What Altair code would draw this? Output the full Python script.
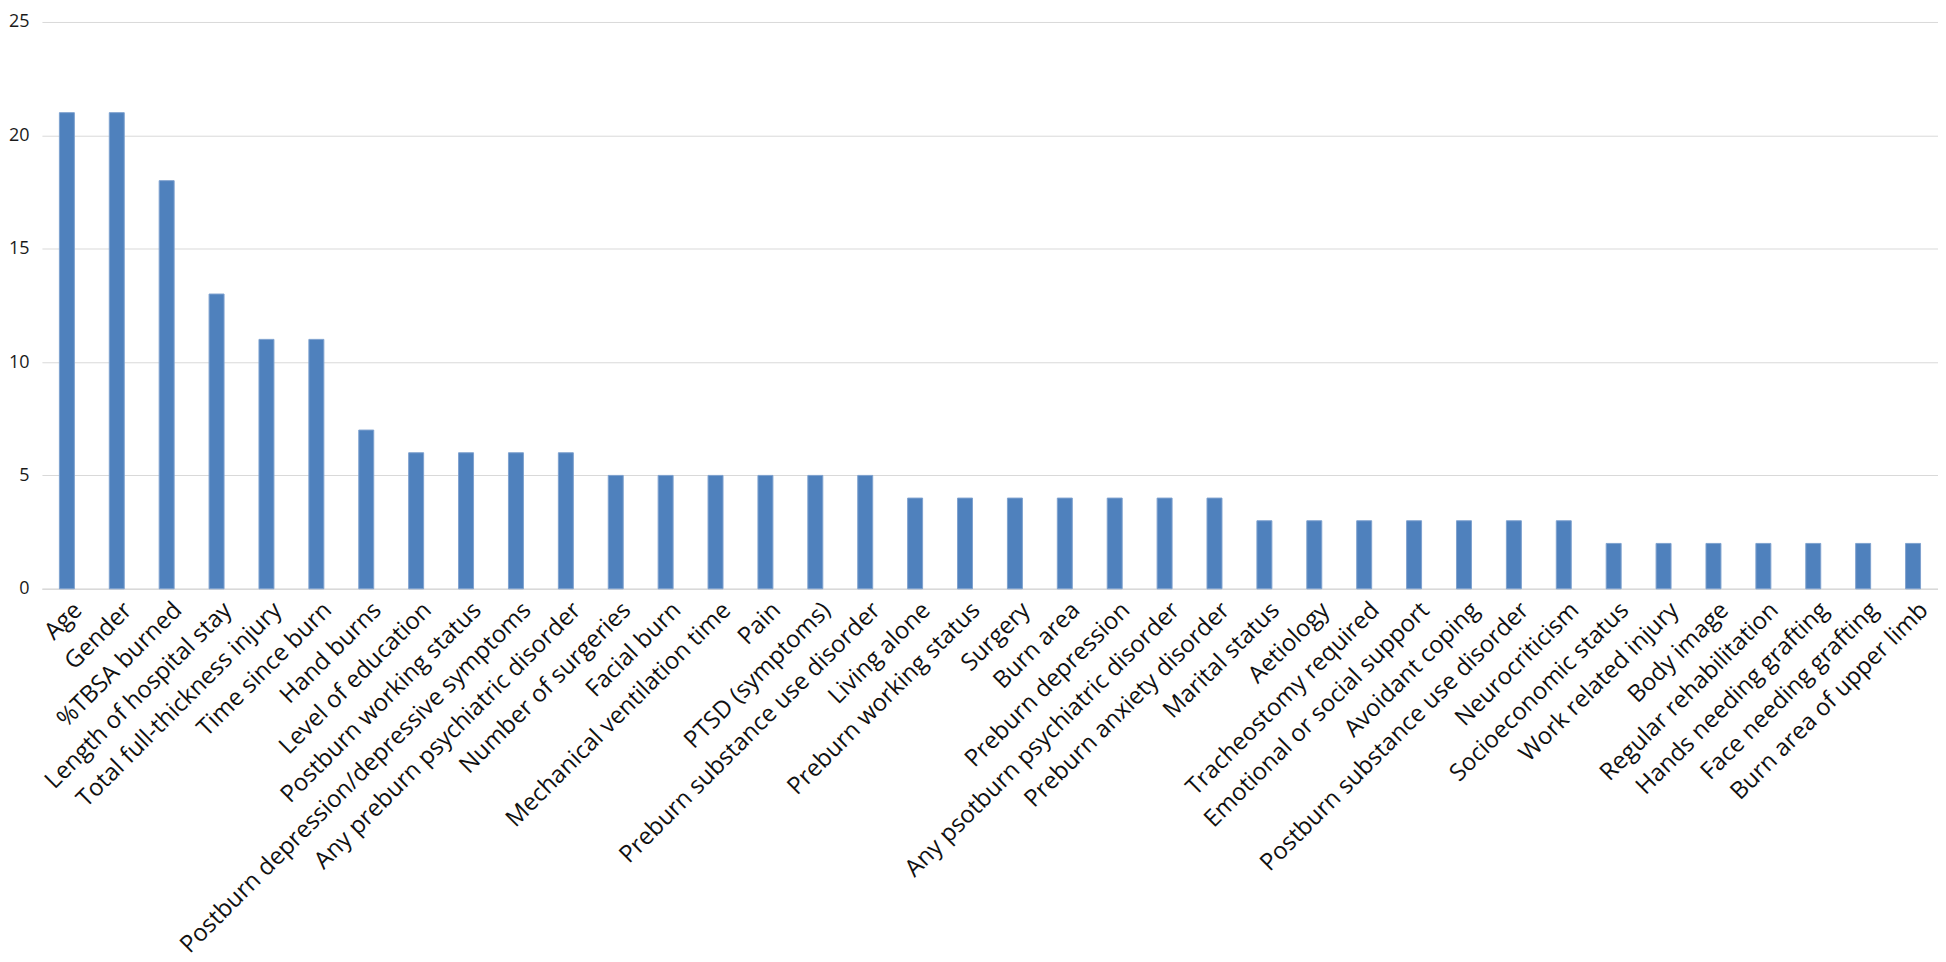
import altair as alt
import pandas as pd

factors = [
    "Age", "Gender", "%TBSA burned", "Length of hospital stay",
    "Total full-thickness injury", "Time since burn", "Hand burns",
    "Level of education", "Postburn working status",
    "Postburn depression/depressive symptoms", "Any preburn psychiatric disorder",
    "Number of surgeries", "Facial burn", "Mechanical ventilation time", "Pain",
    "PTSD (symptoms)", "Preburn substance use disorder", "Living alone",
    "Preburn working status", "Surgery", "Burn area", "Preburn depression",
    "Any psotburn psychiatric disorder", "Preburn anxiety disorder",
    "Marital status", "Aetiology", "Tracheostomy required",
    "Emotional or social support", "Avoidant coping",
    "Postburn substance use disorder", "Neurocriticism",
    "Socioeconomic status", "Work related injury", "Body image",
    "Regular rehabilitation", "Hands needing grafting",
    "Face needing grafting", "Burn area of upper limb",
]
counts = [21, 21, 18, 13, 11, 11, 7, 6, 6, 6, 6, 5, 5, 5, 5, 5, 5,
          4, 4, 4, 4, 4, 4, 4, 3, 3, 3, 3, 3, 3, 3, 2, 2, 2, 2, 2, 2, 2]
y_ticks = [0, 5, 10, 15, 20, 25]

df = pd.DataFrame({"factor": factors, "count": counts})

chart = (
    alt.Chart(df)
    .mark_bar(color="#4F81BD", stroke="#7EA2CF", strokeWidth=1)
    .encode(
        x=alt.X(
            "factor:N",
            sort=factors,
            title=None,
            scale=alt.Scale(paddingInner=0.7, paddingOuter=0.35),
            axis=alt.Axis(
                labelAngle=-45,
                labelAlign="right",
                labelBaseline="top",
                labelPadding=9,
                labelOffset=3,
                labelLimit=800,
                labelOverlap=False,
                labelFont="Open Sans",
                labelFontSize=24,
                labelColor="#111111",
                ticks=False,
                domainColor="#D9D9D9",
                domainWidth=1.5,
                grid=False,
            ),
        ),
        y=alt.Y(
            "count:Q",
            title=None,
            scale=alt.Scale(domain=[0, 25], nice=False),
            axis=alt.Axis(
                values=y_ticks,
                labelFont="Open Sans",
                labelFontSize=18,
                labelColor="#1a1a1a",
                labelPadding=13,
                ticks=False,
                domain=False,
                gridColor="#D9D9D9",
                gridWidth=1,
            ),
        ),
    )
    .properties(width=1900, height=568, padding={"left": 0, "top": 4, "right": 0, "bottom": 0})
    .configure_view(stroke=None)
)

chart.save("out.html", embed_options={"renderer": "svg", "actions": False})
